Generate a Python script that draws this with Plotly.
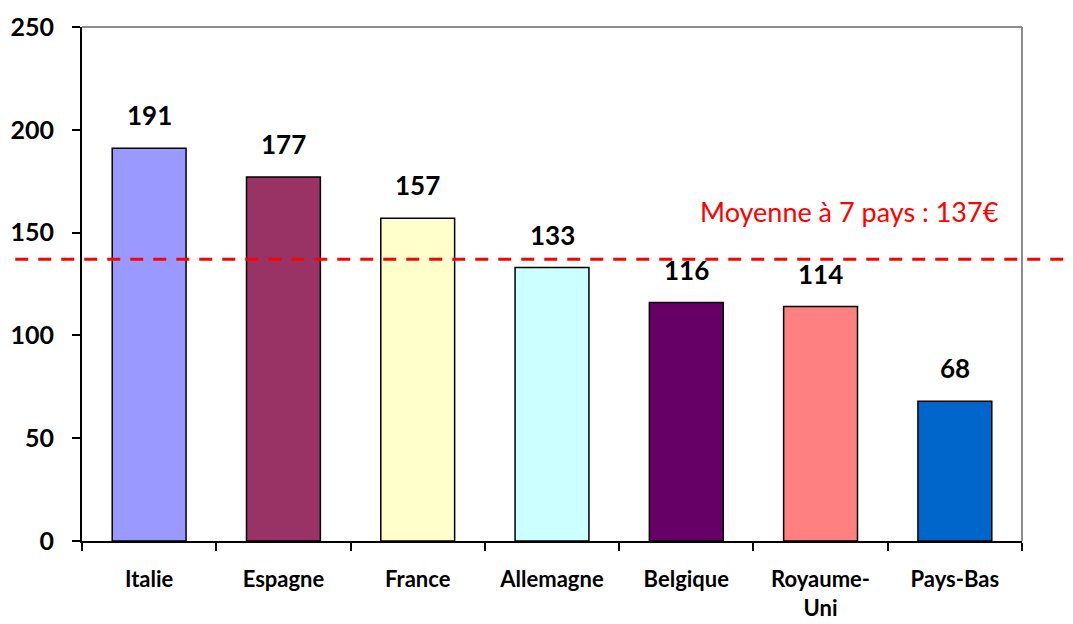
import plotly.graph_objects as go

categories = ["Italie", "Espagne", "France", "Allemagne", "Belgique", "Royaume-<br>Uni", "Pays-Bas"]
values = [191, 177, 157, 133, 116, 114, 68]
colors = ["#9999FF", "#993366", "#FFFFCC", "#CCFFFF", "#660066", "#FF8080", "#0066CC"]
average = 137
avg_label = "Moyenne à 7 pays : 137€"
y_ticks = [0, 50, 100, 150, 200, 250]

FONT = "Lato"

fig = go.Figure()
fig.add_trace(go.Bar(
    x=categories, y=values,
    marker=dict(color=colors, line=dict(color="black", width=1.5)),
    width=0.55,
    hoverinfo="skip",
))

for c, v in zip(categories, values):
    fig.add_annotation(x=c, y=v, text=str(v), showarrow=False,
                       yanchor="bottom", yshift=15,
                       font=dict(family=FONT, size=26, color="black", weight="bold"))

fig.add_shape(type="line", xref="paper", yref="y",
              x0=-0.071, x1=1.07, y0=average, y1=average,
              line=dict(color="#FF0000", width=3, dash="13px,10px"))
fig.add_annotation(xref="paper", yref="y", x=0.817, y=average, yshift=48,
                   xanchor="center", text=avg_label, showarrow=False,
                   font=dict(family=FONT, size=27, color="#FF0000"))

# page body has an 8px margin: shrink the figure so the plot area lands where the reference has it
fig.update_layout(
    width=1065, height=616,
    margin=dict(l=74, r=51, t=19, b=83, autoexpand=False),
    plot_bgcolor="white", paper_bgcolor="white",
    showlegend=False,
    font=dict(family=FONT, color="black"),
)
fig.update_xaxes(
    showline=True, linecolor="black", linewidth=2,
    ticks="outside", tickson="boundaries", ticklen=8, tickcolor="black", tickwidth=2,
    tickfont=dict(family=FONT, size=22, color="black", weight="bold"),
    ticklabelstandoff=18,
    mirror=False, showgrid=False, automargin=False,
)
fig.update_yaxes(
    range=[0, 250], tickvals=y_ticks,
    showline=True, linecolor="black", linewidth=2,
    ticks="outside", ticklen=8, tickcolor="black", tickwidth=2,
    tickfont=dict(family=FONT, size=25, color="black", weight="bold"),
    ticklabelstandoff=13,
    showgrid=False, zeroline=False, automargin=False,
)
# gray top/right border
fig.add_shape(type="line", xref="paper", yref="paper", x0=0, x1=1, y0=1, y1=1,
              line=dict(color="#8C8C8C", width=2))
fig.add_shape(type="line", xref="paper", yref="paper", x0=1, x1=1, y0=0, y1=1,
              line=dict(color="#8C8C8C", width=2))

fig.write_html("out.html")
